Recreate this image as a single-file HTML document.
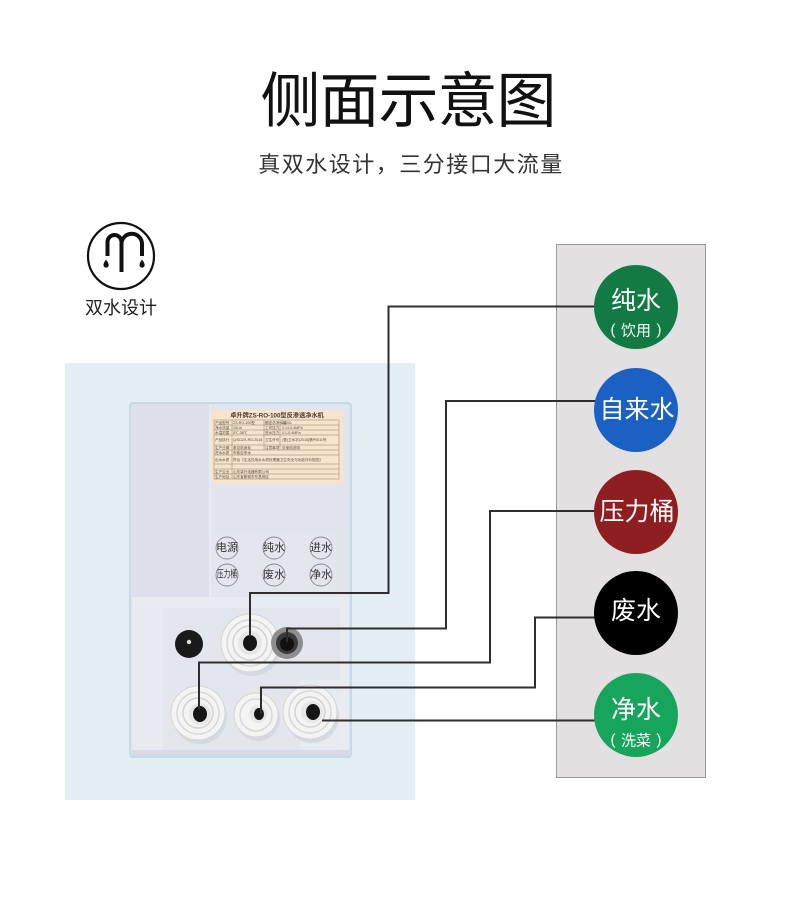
<!DOCTYPE html>
<html>
<head>
<meta charset="utf-8">
<style>
  html,body{margin:0;padding:0;background:#fff;}
  body{width:800px;height:905px;position:relative;overflow:hidden;font-family:"Liberation Sans","Noto Sans CJK SC",sans-serif;}
  .title{position:absolute;left:0;width:816px;top:71px;height:62px;line-height:62px;text-align:center;font-size:60px;color:#111;letter-spacing:-1px;}
  .sub{position:absolute;left:0;width:822px;top:153px;height:24px;line-height:24px;text-align:center;font-size:22px;color:#333;letter-spacing:1.5px;}
  svg{position:absolute;left:0;top:0;}
  svg text{font-family:"Liberation Sans","Noto Sans CJK SC",sans-serif;}
</style>
</head>
<body>
<div class="title">侧面示意图</div>
<div class="sub">真双水设计，三分接口大流量</div>

<svg width="800" height="905" viewBox="0 0 800 905">
  <!-- icon -->
  <circle cx="121" cy="256" r="33" fill="none" stroke="#111" stroke-width="2.2"/>
  <path d="M107.5,256 V242 A7,7 0 0 1 121.5,242 V272 M121.5,244 A10.25,10.25 0 0 1 142,244 V256" fill="none" stroke="#111" stroke-width="4"/>
  <path d="M106,259.5 Q103.3,263.5 103.5,265 A2.6,2.6 0 0 0 108.7,265 Q108.8,263.5 106,259.5 Z" fill="#111"/>
  <path d="M142,259.5 Q139.3,263.5 139.5,265 A2.6,2.6 0 0 0 144.7,265 Q144.8,263.5 142,259.5 Z" fill="#111"/>
  <text x="121" y="308" font-size="18" fill="#222" text-anchor="middle" dominant-baseline="central">双水设计</text>

  <!-- light blue backdrop -->
  <rect x="65" y="363" width="350" height="437" fill="#e3eef5"/>

  <!-- device body -->
  <rect x="130" y="403" width="221" height="354" rx="3" fill="#dee1ec" stroke="#c3dce8" stroke-width="2"/>
  <rect x="210" y="405" width="139" height="192" fill="#e2e4ee"/>
  <line x1="210" y1="405" x2="210" y2="597" stroke="#eceef4" stroke-width="1.5"/>
  <!-- sticker -->
  <rect x="211" y="410" width="132" height="74" rx="3" fill="#f6e4cd"/>
  <text x="277" y="416" font-size="6.2" font-weight="bold" fill="#4a3a2a" text-anchor="middle" dominant-baseline="central">卓升牌ZS-RO-100型反渗透净水机</text>
  <g stroke="#8f7f6c" stroke-width="0.5" fill="none">
    <rect x="214" y="420" width="125" height="59"/>
    <line x1="214" y1="425" x2="339" y2="425"/>
    <line x1="214" y1="430" x2="339" y2="430"/>
    <line x1="214" y1="435" x2="339" y2="435"/>
    <line x1="214" y1="445" x2="339" y2="445"/>
    <line x1="214" y1="450" x2="339" y2="450"/>
    <line x1="214" y1="455" x2="339" y2="455"/>
    <line x1="214" y1="464" x2="339" y2="464"/>
    <line x1="214" y1="469" x2="339" y2="469"/>
    <line x1="214" y1="474" x2="339" y2="474"/>
    <line x1="232" y1="420" x2="232" y2="479"/>
    <line x1="264" y1="420" x2="264" y2="450"/>
    <line x1="280" y1="420" x2="280" y2="450"/>
  </g>
  <g font-size="3.6" fill="#5a4a3a">
    <text x="215" y="424">产品型号</text><text x="233" y="424">ZS-RO-100型</text><text x="265" y="424">额定总净水量</text><text x="282" y="424">2000L</text>
    <text x="215" y="429">净水流量</text><text x="233" y="429">10L/h</text><text x="265" y="429">工作压力</text><text x="282" y="429">0.14-0.4MPa</text>
    <text x="215" y="434">水温范围</text><text x="233" y="434">5℃-38℃</text><text x="265" y="434">进水压力</text><text x="282" y="434">0.1-0.4MPa</text>
    <text x="215" y="441">产品执行</text><text x="233" y="441">Q/SDZS-RO-2018</text><text x="265" y="441">卫生许可</text><text x="282" y="441">(鲁)卫水字(2018)第P0011号</text>
    <text x="215" y="449">生产日期</text><text x="233" y="449">参见机身标</text><text x="265" y="449">注意事项</text><text x="282" y="449">见使用说明</text>
    <text x="215" y="454">进水水质</text><text x="233" y="454">市政自来水</text>
    <text x="215" y="461">出水水质</text><text x="233" y="461">符合《生活饮用水水质处理器卫生安全与功能评价规范》</text>
    <text x="215" y="473">生产企业</text><text x="233" y="473">山东卓升电器有限公司</text>
    <text x="215" y="478">生产地址</text><text x="233" y="478">山东省聊城市东昌府区</text>
  </g>

  <!-- button labels -->
  <rect x="212" y="532" width="130" height="65" fill="#e4e6ee"/>
  <g fill="none" stroke="#8a8a90" stroke-width="0.9">
    <circle cx="227" cy="548" r="11"/><circle cx="274" cy="548" r="11"/><circle cx="321" cy="548" r="11"/>
    <circle cx="227" cy="575" r="11"/><circle cx="274" cy="575" r="11"/><circle cx="321" cy="575" r="11"/>
  </g>
  <g font-size="11" fill="#333" text-anchor="middle" dominant-baseline="central">
    <text x="227" y="548">电源</text><text x="274" y="548">纯水</text><text x="321" y="548">进水</text>
    <text x="227" y="575" font-size="10" textLength="20" lengthAdjust="spacingAndGlyphs">压力桶</text><text x="274" y="575">废水</text><text x="321" y="575">净水</text>
  </g>

  <!-- lower section -->
  <rect x="132" y="597" width="217" height="11" fill="#eaecf3"/>
  <rect x="132" y="607" width="31" height="143" fill="#e8eaf1"/>
  <rect x="163" y="608" width="177" height="142" fill="#e4e6ee"/>
  <rect x="300" y="680" width="49" height="70" fill="#e8eaf1"/>
  <rect x="340" y="608" width="9" height="142" fill="#e9ebf2"/>
  <rect x="132" y="750" width="217" height="6" fill="#d8dbe5"/>

  <!-- DC jack -->
  <circle cx="189" cy="644" r="14" fill="#1a1a1a"/>
  <circle cx="189" cy="642" r="2.2" fill="#ddd"/>

  <!-- shadows -->
  <g fill="#d4d6df" opacity="0.8">
    <circle cx="252" cy="647" r="29"/>
    <circle cx="200" cy="717" r="27"/>
    <circle cx="258" cy="719" r="22"/>
    <circle cx="312" cy="716" r="27"/>
  </g>

  <!-- top fitting -->
  <g>
    <circle cx="250" cy="643" r="29" fill="#f4f4f4" stroke="#d5d5d5" stroke-width="1"/>
    <circle cx="250" cy="643" r="23" fill="none" stroke="#d8d8d8" stroke-width="1.5"/>
    <circle cx="250" cy="643" r="17" fill="none" stroke="#d2d2d2" stroke-width="1.5"/>
    <circle cx="250" cy="643" r="12" fill="#e6e6e6"/>
    <ellipse cx="250" cy="643" rx="7" ry="8" fill="#151515"/>
  </g>
  <!-- gray fitting -->
  <circle cx="287" cy="643" r="16" fill="#8e8e8e"/>
  <circle cx="287" cy="643" r="11" fill="#3a3a3a"/>
  <circle cx="287" cy="644" r="7" fill="#111"/>

  <!-- bottom fittings -->
  <g>
    <circle cx="198" cy="713" r="27" fill="#f4f4f4" stroke="#d5d5d5"/>
    <circle cx="198" cy="713" r="21" fill="none" stroke="#d8d8d8" stroke-width="1.5"/>
    <circle cx="198" cy="713" r="15" fill="none" stroke="#d2d2d2" stroke-width="1.5"/>
    <circle cx="200" cy="714" r="11" fill="#e6e6e6"/>
    <ellipse cx="200" cy="714" rx="7" ry="8" fill="#151515"/>
  </g>
  <g>
    <circle cx="256" cy="715" r="22" fill="#f4f4f4" stroke="#d5d5d5"/>
    <circle cx="256" cy="715" r="16" fill="none" stroke="#d8d8d8" stroke-width="1.5"/>
    <circle cx="258" cy="714" r="9" fill="#e6e6e6"/>
    <ellipse cx="259" cy="714" rx="5" ry="6" fill="#151515"/>
  </g>
  <g>
    <circle cx="310" cy="712" r="27" fill="#f4f4f4" stroke="#d5d5d5"/>
    <circle cx="310" cy="712" r="21" fill="none" stroke="#d8d8d8" stroke-width="1.5"/>
    <circle cx="310" cy="712" r="15" fill="none" stroke="#d2d2d2" stroke-width="1.5"/>
    <circle cx="312" cy="712" r="11" fill="#e6e6e6"/>
    <ellipse cx="313" cy="712" rx="7" ry="8" fill="#151515"/>
  </g>

  <!-- right panel -->
  <rect x="556.5" y="244.5" width="149" height="533" fill="#e2e0e0" stroke="#9a9a9a" stroke-width="1"/>

  <!-- connector lines -->
  <g fill="none" stroke="#2e2e2e" stroke-width="2">
    <path d="M600,306.5 H388.5 V593 H250 V636"/>
    <path d="M600,401 H446 V628.5 H287 V642"/>
    <path d="M600,511 H490 V662.5 H199 V710"/>
    <path d="M600,617.5 H535 V687.5 H261 V714"/>
    <path d="M600,720.5 H322"/>
  </g>

  <!-- circles -->
  <circle cx="636" cy="307" r="42" fill="#127a45"/>
  <circle cx="636" cy="410" r="42" fill="#1b61c3"/>
  <circle cx="636" cy="512" r="42" fill="#8e1e1f"/>
  <circle cx="636" cy="613" r="42" fill="#000"/>
  <circle cx="636" cy="715" r="42" fill="#17a55b"/>
  <g fill="#fff" text-anchor="middle" dominant-baseline="central">
    <text x="636" y="301" font-size="25">纯水</text>
    <text x="613" y="330" font-size="15">(</text>
    <text x="636" y="331" font-size="15">饮用</text>
    <text x="659" y="330" font-size="15">)</text>
    <text x="637" y="410" font-size="25">自来水</text>
    <text x="637" y="512" font-size="25">压力桶</text>
    <text x="636" y="611" font-size="25">废水</text>
    <text x="636" y="710" font-size="25">净水</text>
    <text x="613" y="740" font-size="15">(</text>
    <text x="636" y="741" font-size="15">洗菜</text>
    <text x="659" y="740" font-size="15">)</text>
  </g>
</svg>
</body>
</html>
